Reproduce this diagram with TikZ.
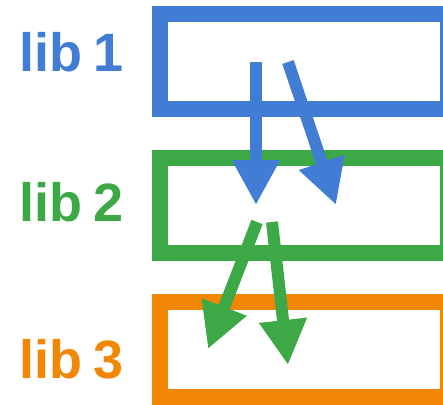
\documentclass[tikz,border=0pt]{standalone}
\usepackage{fontspec}
\setmainfont{Liberation Sans}
\usetikzlibrary{arrows.meta}
\definecolor{libblue}{HTML}{427DD5}
\definecolor{libgreen}{HTML}{3DA846}
\definecolor{liborange}{HTML}{F28705}
% bold label face with a slightly tight word space
\newcommand\liblabelfont{\fontsize{54}{60}\selectfont\bfseries\spaceskip=11pt plus 0pt minus 0pt\relax}
\begin{document}
\begin{tikzpicture}[x=1pt,y=-1pt,
  libbox/.style={draw, line width=16pt, minimum width=288pt, minimum height=95pt, inner sep=0pt, fill=none},
  liblabel/.style={anchor=base west, inner sep=0pt, font=\liblabelfont},
  dep/.style={line width=12pt, -{Triangle[length=45pt,width=45pt]}}]
  \useasboundingbox (0,0) rectangle (443,404);
  % library boxes
  \node[libbox, draw=libblue]    (box1) at (304,61.5)  {};
  \node[libbox, draw=libgreen]   (box2) at (304,205.75) {};
  \node[libbox, draw=liborange]  (box3) at (304,349.5) {};
  % labels
  \node[liblabel, text=libblue]   (lab1) at (19,71.5)  {lib 1};
  \node[liblabel, text=libgreen]  (lab2) at (19,221.5) {lib 2};
  \node[liblabel, text=liborange] (lab3) at (19,378) {lib 3};
  % dependency end points
  \coordinate (a1) at (256,62);
  \coordinate (a2) at (288,62);
  \coordinate (b1) at (256,205);
  \coordinate (b2) at (336,205);
  \coordinate (c1) at (257,222);
  \coordinate (c2) at (272,222);
  \coordinate (d1) at (208,349);
  \coordinate (d2) at (288,365);
  % dependencies
  \draw[dep, libblue]  (a1) -- (b1);
  \draw[dep, libblue]  (a2) -- (b2);
  \draw[dep, libgreen] (c1) -- (d1);
  \draw[dep, libgreen] (c2) -- (d2);
\end{tikzpicture}
\end{document}
